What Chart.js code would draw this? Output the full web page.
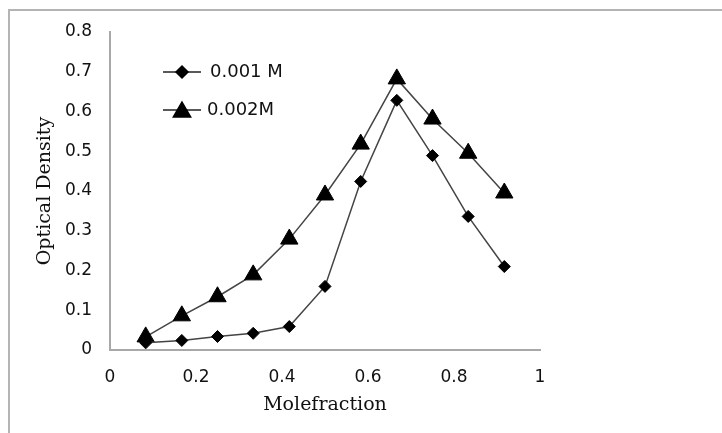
<!DOCTYPE html>
<html>
<head>
<meta charset="utf-8">
<script src="https://cdn.jsdelivr.net/npm/chart.js@4/dist/chart.umd.min.js"></script>
<style>
html,body{margin:0;padding:0;background:#fff;}
#wrap{width:722px;height:433px;position:relative;}
</style>
</head>
<body>
<div id="wrap"><canvas id="c" width="722" height="433"></canvas></div>
<script>
const moleFraction = [0.083, 0.167, 0.25, 0.333, 0.417, 0.5, 0.583, 0.667, 0.75, 0.833, 0.917];
const od001 = [0.018, 0.024, 0.034, 0.042, 0.059, 0.16, 0.424, 0.628, 0.489, 0.336, 0.21];
const od002 = [0.033, 0.086, 0.134, 0.189, 0.279, 0.39, 0.518, 0.682, 0.581, 0.495, 0.395];
const seriesNames = ["0.001 M", "0.002M"];
const xTickLabels = ["0", "0.2", "0.4", "0.6", "0.8", "1"];
const yTickLabels = ["0", "0.1", "0.2", "0.3", "0.4", "0.5", "0.6", "0.7", "0.8"];

const TICK_FONT = {family: "'DejaVu Sans', sans-serif", size: 17};
const TITLE_FONT = {family: "'DejaVu Serif', serif", size: 19};

const frame = {
  id: 'frame',
  beforeDraw(chart) {
    const ctx = chart.ctx;
    ctx.save();
    ctx.fillStyle = '#fff';
    ctx.fillRect(0, 0, chart.width, chart.height);
    ctx.strokeStyle = '#b4b4b4';
    ctx.lineWidth = 2;
    ctx.strokeRect(9, 10, 900, 600);
    ctx.restore();
  }
};

const inLegend = {
  id: 'inLegend',
  afterDatasetsDraw(chart) {
    const ctx = chart.ctx;
    const rows = [
      {ds: chart.data.datasets[0], y: 72, x0: 163, x1: 201, mx: 182, tx: 210},
      {ds: chart.data.datasets[1], y: 110, x0: 163, x1: 201, mx: 182, tx: 207}
    ];
    ctx.save();
    rows.forEach(r => {
      ctx.strokeStyle = '#222';
      ctx.lineWidth = 1.5;
      ctx.beginPath();
      ctx.moveTo(r.x0, r.y);
      ctx.lineTo(r.x1, r.y);
      ctx.stroke();
      ctx.fillStyle = '#000';
      ctx.strokeStyle = '#000';
      Chart.helpers.drawPoint(ctx, {pointStyle: r.ds.pointStyle, radius: r.ds.pointRadius, borderWidth: 1}, r.mx, r.ds.pointStyle === 'triangle' ? r.y + 2 : r.y);
      ctx.fillStyle = '#111';
      ctx.font = "18px 'DejaVu Sans', sans-serif";
      ctx.textBaseline = 'middle';
      ctx.textAlign = 'left';
      ctx.fillText(r.ds.label, r.tx, r.y);
    });
    ctx.restore();
  }
};

new Chart(document.getElementById('c'), {
  type: 'scatter',
  data: {
    datasets: [
      {
        label: seriesNames[0],
        data: moleFraction.map((x, i) => ({x: x, y: od001[i]})),
        showLine: true,
        borderColor: '#444',
        borderWidth: 1.5,
        pointStyle: 'rectRot',
        pointRadius: 6,
        pointBackgroundColor: '#000',
        pointBorderColor: '#000',
        pointBorderWidth: 1
      },
      {
        label: seriesNames[1],
        data: moleFraction.map((x, i) => ({x: x, y: od002[i]})),
        showLine: true,
        borderColor: '#444',
        borderWidth: 1.5,
        pointStyle: 'triangle',
        pointRadius: 10,
        pointBackgroundColor: '#000',
        pointBorderColor: '#000',
        pointBorderWidth: 1
      }
    ]
  },
  options: {
    responsive: false,
    animation: false,
    events: [],
    layout: {padding: {left: 0, top: 32, right: 182, bottom: 0}},
    plugins: {legend: {display: false}, tooltip: {enabled: false}},
    scales: {
      x: {
        type: 'linear',
        min: 0, max: 1,
        afterFit(s) { s.height = 83; },
        grid: {display: false, drawTicks: false},
        border: {display: true, color: '#a8a8a8', width: 2},
        ticks: {
          stepSize: 0.2,
          padding: 17,
          color: '#111',
          font: TICK_FONT,
          maxRotation: 0,
          callback: (v) => xTickLabels[Math.round(v / 0.2)]
        },
        title: {display: true, text: 'Molefraction', color: '#111', font: TITLE_FONT, padding: {top: 0, bottom: 17}}
      },
      y: {
        type: 'linear',
        min: 0, max: 0.8,
        afterFit(s) { s.width = 110; },
        grid: {display: false, drawTicks: false},
        border: {display: true, color: '#a8a8a8', width: 2},
        ticks: {
          stepSize: 0.1,
          padding: 18,
          color: '#111',
          font: TICK_FONT,
          callback: (v) => yTickLabels[Math.round(v / 0.1)]
        },
        title: {display: true, text: 'Optical Density', color: '#111', font: TITLE_FONT, padding: {top: 34, bottom: 0}}
      }
    }
  },
  plugins: [frame, inLegend]
});
</script>
</body>
</html>
